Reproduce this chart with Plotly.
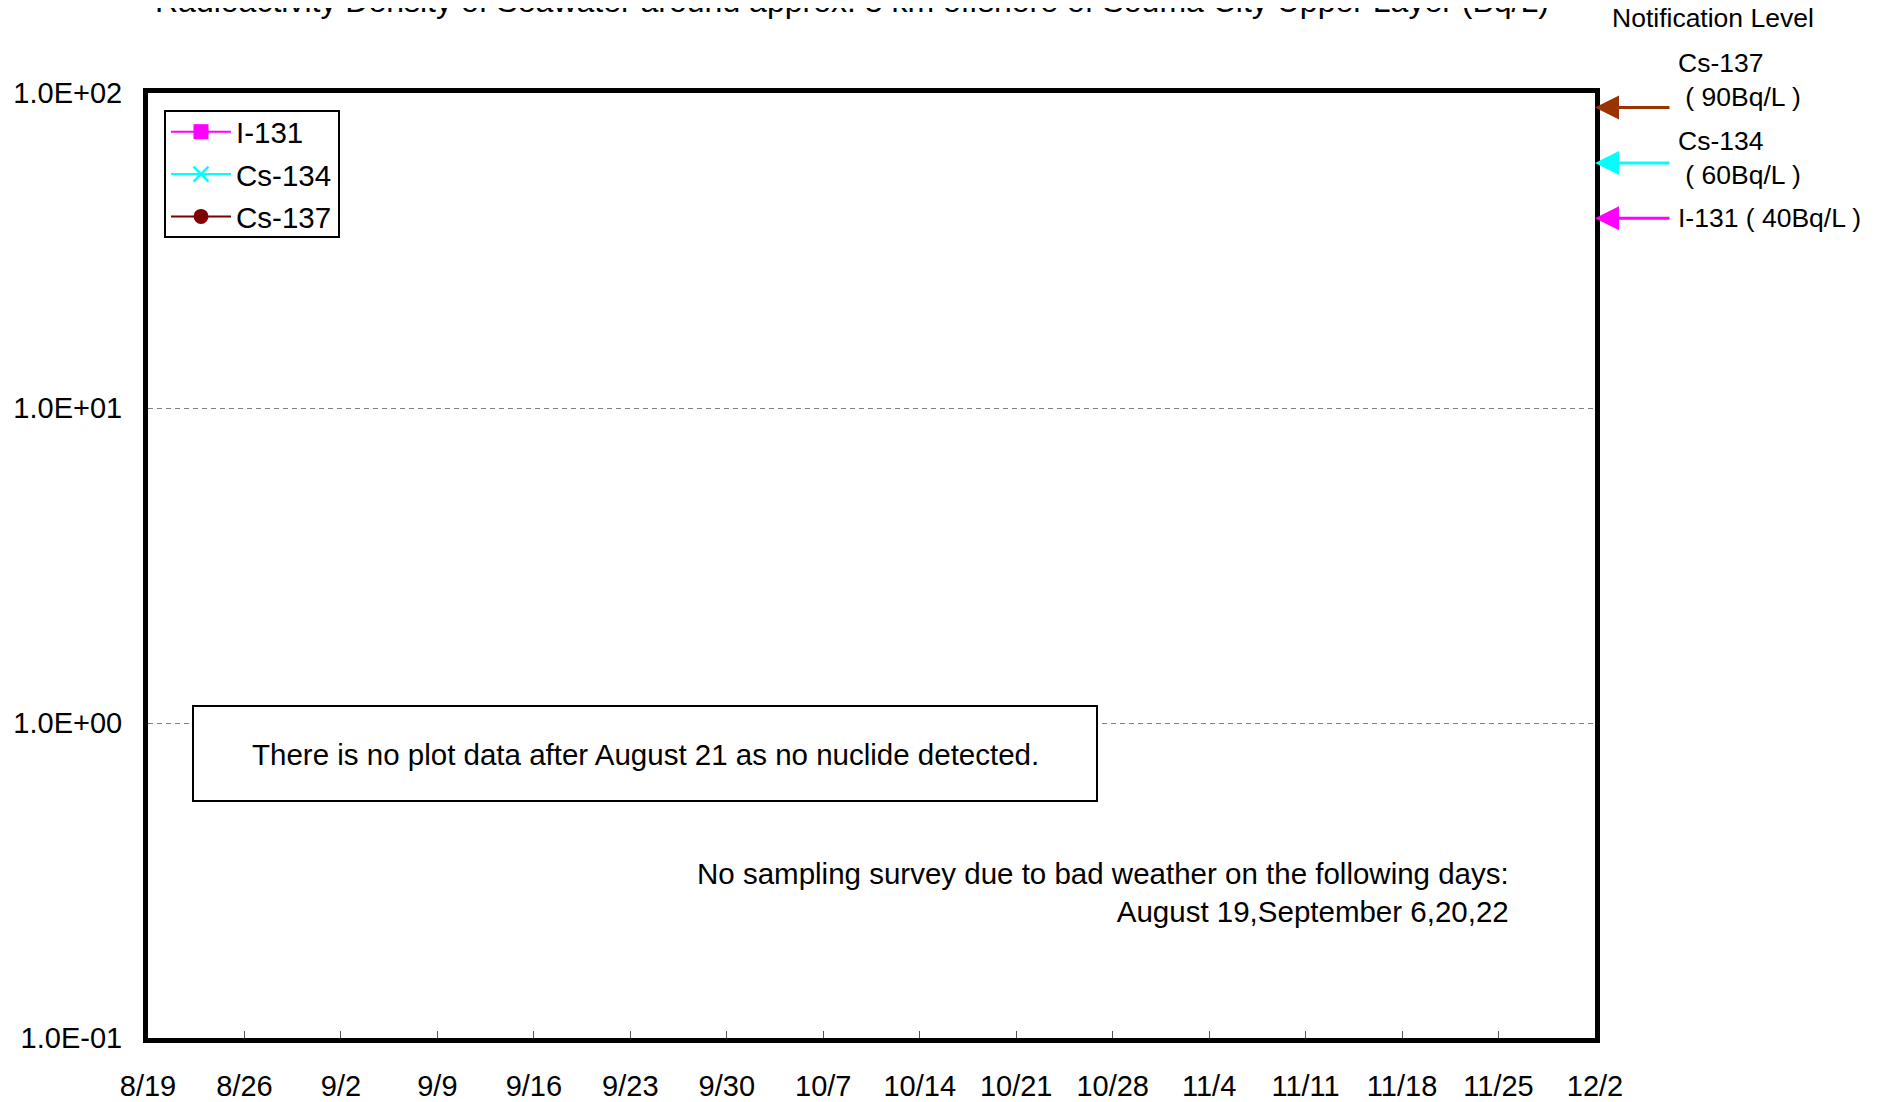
import math
import plotly.graph_objects as go

# ---------------- data ----------------
dates = ["2011-08-19", "2011-08-20", "2011-08-21"]
i131 = [None, None, None]     # not detected
cs134 = [None, None, None]    # not detected
cs137 = [None, None, None]    # not detected

x_tick_vals = ["2011-08-19", "2011-08-26", "2011-09-02", "2011-09-09", "2011-09-16",
               "2011-09-23", "2011-09-30", "2011-10-07", "2011-10-14", "2011-10-21",
               "2011-10-28", "2011-11-04", "2011-11-11", "2011-11-18", "2011-11-25",
               "2011-12-02"]
x_tick_text = ["8/19", "8/26", "9/2", "9/9", "9/16", "9/23", "9/30", "10/7", "10/14",
               "10/21", "10/28", "11/4", "11/11", "11/18", "11/25", "12/2"]
y_tick_vals = [0.1, 1, 10, 100]
y_tick_text = ["1.0E-01", "1.0E+00", "1.0E+01", "1.0E+02"]

limit_names = ["Cs-137", "Cs-134", "I-131"]
limit_values = [90, 60, 40]
limit_colors = ["#993300", "#00FFFF", "#FF00FF"]

title_text = "Radioactivity Density of Seawater around approx. 3 km offshore of Souma City Upper Layer (Bq/L)"

FONT = "Liberation Sans, Arial, sans-serif"
W, H = 1877, 1102
OFF = 8  # page body margin
L, R, T, B = 140, 290, 85, 72
PW, PH = W - L - R, H - T - B


def px(sx):
    return (sx - OFF - L) / PW


def py(sy):
    return (H - B - (sy - OFF)) / PH


fig = go.Figure()
fig.add_trace(go.Scatter(x=dates, y=i131, name="I-131", mode="lines+markers",
                         line=dict(color="#FF00FF", width=2),
                         marker=dict(symbol="square", size=15, color="#FF00FF"),
                         legendgroup="a"))
fig.add_trace(go.Scatter(x=dates, y=cs134, name="Cs-134", mode="lines+markers",
                         line=dict(color="#00FFFF", width=2),
                         marker=dict(symbol="x-thin", size=15, color="#00FFFF",
                                     line=dict(color="#00FFFF", width=2.5)),
                         legendgroup="b"))
fig.add_trace(go.Scatter(x=dates, y=cs137, name="Cs-137", mode="lines+markers",
                         line=dict(color="#800000", width=2),
                         marker=dict(symbol="circle", size=15, color="#800000"),
                         legendgroup="c"))

annotations = []
# title (partially cut off at top)
annotations.append(dict(text=title_text, xref="paper", yref="paper",
                        x=px(852), y=py(1), xanchor="center", yanchor="middle",
                        showarrow=False, font=dict(size=32, color="black", family=FONT)))
annotations.append(dict(text="Notification Level", xref="paper", yref="paper",
                        x=px(1713), y=py(18), xanchor="center", yanchor="middle",
                        showarrow=False, font=dict(size=26.5, color="black", family=FONT)))
# arrows for notification levels
for v, c in zip(limit_values, limit_colors):
    annotations.append(dict(text="", xref="paper", yref="y", x=1.0, y=math.log10(v),
                            ax=76, ay=0, axref="pixel", ayref="pixel",
                            showarrow=True, arrowhead=2, arrowsize=1.6, arrowwidth=3,
                            arrowcolor=c))
label_pos = [(1676, 79.5), (1676, 157.5), (1676, 218)]
for name, v, (lx, ly) in zip(limit_names, limit_values, label_pos):
    if name == "I-131":
        txt = f"{name} ( {v}Bq/L )"
    else:
        txt = f"{name}<br> ( {v}Bq/L )"
    annotations.append(dict(text=txt, xref="paper", yref="paper", x=px(lx), y=py(ly),
                            xanchor="left", yanchor="middle", align="left",
                            showarrow=False, font=dict(size=26.5, color="black", family=FONT)))
# notes
annotations.append(dict(text="There is no plot data after August 21 as no nuclide detected.",
                        xref="paper", yref="paper", x=px(645), y=py(754),
                        xanchor="center", yanchor="middle", showarrow=False,
                        font=dict(size=29.5, color="black", family=FONT)))
annotations.append(dict(text="No sampling survey due to bad weather on the following days:<br>August 19,September 6,20,22",
                        xref="paper", yref="paper", x=px(1511), y=py(892),
                        xanchor="right", yanchor="middle", align="right", showarrow=False,
                        font=dict(size=29.5, color="black", family=FONT)))

shapes = [
    dict(type="rect", xref="paper", yref="paper",
         x0=px(193), x1=px(1097), y0=py(801), y1=py(706),
         line=dict(color="black", width=2), fillcolor="white", layer="above"),
    # legend frame
    dict(type="rect", xref="paper", yref="paper",
         x0=px(165), x1=px(339), y0=py(237), y1=py(111),
         line=dict(color="black", width=2), fillcolor="rgba(0,0,0,0)", layer="above"),
]

fig.update_layout(
    width=W, height=H,
    margin=dict(l=L, r=R, t=T, b=B, pad=0, autoexpand=False),
    paper_bgcolor="white", plot_bgcolor="white",
    font=dict(family=FONT, size=29, color="black"),
    showlegend=True,
    legend=dict(x=px(166), y=py(106), xanchor="left", yanchor="top",
                borderwidth=0, bgcolor="rgba(0,0,0,0)",
                font=dict(size=29.5, family=FONT, color="black"),
                traceorder="grouped", tracegroupgap=1, itemwidth=60),
    annotations=annotations,
    shapes=shapes,
)
fig.update_xaxes(type="date", range=["2011-08-19", "2011-12-02"], automargin=False,
                 tickmode="array", tickvals=x_tick_vals, ticktext=x_tick_text,
                 ticks="inside", ticklen=7, tickwidth=1, tickcolor="#555555",
                 showgrid=False, zeroline=False,
                 showline=True, linecolor="black", linewidth=5, mirror=True,
                 ticklabelstandoff=18,
                 tickfont=dict(size=29, family=FONT, color="black"))
fig.update_yaxes(type="log", range=[-1, 2], automargin=False,
                 tickmode="array", tickvals=y_tick_vals, ticktext=y_tick_text,
                 ticks="", showgrid=True, gridcolor="#808080", gridwidth=1,
                 griddash="5px,4px", zeroline=False,
                 showline=True, linecolor="black", linewidth=5, mirror=True,
                 ticklabelstandoff=15,
                 tickfont=dict(size=29, family=FONT, color="black"))

fig.write_html("out.html")
